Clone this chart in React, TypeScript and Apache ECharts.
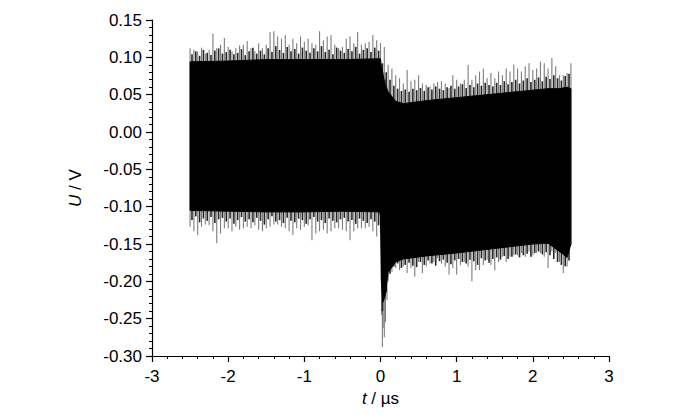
import React, { useEffect, useRef } from "react";
import * as echarts from "echarts";

// Sample times (µs) of the visible spike tips, 0.05 µs apart
const sampleT = [
  -2.5, -2.45, -2.4, -2.35, -2.3, -2.25, -2.2, -2.15, -2.1, -2.05,
  -2.0, -1.95, -1.9, -1.85, -1.8, -1.75, -1.7, -1.65, -1.6, -1.55,
  -1.5, -1.45, -1.4, -1.35, -1.3, -1.25, -1.2, -1.15, -1.1, -1.05,
  -1.0, -0.95, -0.9, -0.85, -0.8, -0.75, -0.7, -0.65, -0.6, -0.55,
  -0.5, -0.45, -0.4, -0.35, -0.3, -0.25, -0.2, -0.15, -0.1, -0.05,
  0.0, 0.05, 0.1, 0.15, 0.2, 0.25, 0.3, 0.35, 0.4, 0.45,
  0.5, 0.55, 0.6, 0.65, 0.7, 0.75, 0.8, 0.85, 0.9, 0.95,
  1.0, 1.05, 1.1, 1.15, 1.2, 1.25, 1.3, 1.35, 1.4, 1.45,
  1.5, 1.55, 1.6, 1.65, 1.7, 1.75, 1.8, 1.85, 1.9, 1.95,
  2.0, 2.05, 2.1, 2.15, 2.2, 2.25, 2.3, 2.35, 2.4, 2.45,
  2.5,
];

// Upper spike tips (V)
const spikeHi = [
  0.112, 0.110, 0.108, 0.113, 0.105, 0.110, 0.132, 0.112, 0.117, 0.126,
  0.114, 0.108, 0.112, 0.116, 0.117, 0.122, 0.112, 0.108, 0.119, 0.112,
  0.117, 0.134, 0.135, 0.128, 0.125, 0.130, 0.117, 0.125, 0.119, 0.128,
  0.121, 0.125, 0.119, 0.117, 0.135, 0.123, 0.128, 0.130, 0.117, 0.112,
  0.114, 0.125, 0.128, 0.119, 0.134, 0.117, 0.119, 0.121, 0.130, 0.123,
  0.119, 0.114, 0.090, 0.085, 0.076, 0.072, 0.065, 0.083, 0.068, 0.070,
  0.076, 0.065, 0.063, 0.061, 0.065, 0.067, 0.068, 0.065, 0.059, 0.076,
  0.070, 0.065, 0.070, 0.090, 0.070, 0.076, 0.081, 0.085, 0.072, 0.079,
  0.072, 0.081, 0.076, 0.085, 0.081, 0.090, 0.085, 0.081, 0.088, 0.092,
  0.083, 0.085, 0.094, 0.092, 0.085, 0.099, 0.088, 0.076, 0.076, 0.079,
  0.092,
];

// Lower spike tips (V)
const spikeLo = [
  -0.127, -0.133, -0.138, -0.127, -0.124, -0.125, -0.133, -0.149, -0.136, -0.129,
  -0.129, -0.133, -0.127, -0.131, -0.129, -0.127, -0.129, -0.125, -0.131, -0.133,
  -0.129, -0.127, -0.124, -0.124, -0.127, -0.129, -0.133, -0.138, -0.129, -0.131,
  -0.127, -0.125, -0.145, -0.136, -0.133, -0.131, -0.136, -0.133, -0.129, -0.129,
  -0.131, -0.133, -0.145, -0.133, -0.129, -0.129, -0.129, -0.127, -0.133, -0.140,
  -0.136, -0.275, -0.200, -0.187, -0.182, -0.185, -0.180, -0.189, -0.182, -0.194,
  -0.174, -0.189, -0.180, -0.176, -0.174, -0.169, -0.176, -0.180, -0.191, -0.182,
  -0.191, -0.178, -0.174, -0.180, -0.200, -0.185, -0.185, -0.178, -0.171, -0.178,
  -0.185, -0.174, -0.167, -0.174, -0.167, -0.165, -0.165, -0.162, -0.167, -0.160,
  -0.165, -0.162, -0.162, -0.167, -0.182, -0.160, -0.162, -0.174, -0.189, -0.180,
  -0.151,
];

// Dense dark fringe, sampled half-way between the spike tips
const fringeT = [
  -2.475, -2.425, -2.375, -2.325, -2.275, -2.225, -2.175, -2.125, -2.075, -2.025,
  -1.975, -1.925, -1.875, -1.825, -1.775, -1.725, -1.675, -1.625, -1.575, -1.525,
  -1.475, -1.425, -1.375, -1.325, -1.275, -1.225, -1.175, -1.125, -1.075, -1.025,
  -0.975, -0.925, -0.875, -0.825, -0.775, -0.725, -0.675, -0.625, -0.575, -0.525,
  -0.475, -0.425, -0.375, -0.325, -0.275, -0.225, -0.175, -0.125, -0.075, -0.025,
  0.025, 0.075, 0.125, 0.175, 0.225, 0.275, 0.325, 0.375, 0.425, 0.475,
  0.525, 0.575, 0.625, 0.675, 0.725, 0.775, 0.825, 0.875, 0.925, 0.975,
  1.025, 1.075, 1.125, 1.175, 1.225, 1.275, 1.325, 1.375, 1.425, 1.475,
  1.525, 1.575, 1.625, 1.675, 1.725, 1.775, 1.825, 1.875, 1.925, 1.975,
  2.025, 2.075, 2.125, 2.175, 2.225, 2.275, 2.325, 2.375, 2.425, 2.475,
];
const fringeHi = [
  0.104, 0.108, 0.102, 0.110, 0.106, 0.103, 0.109, 0.112, 0.105, 0.107,
  0.110, 0.104, 0.106, 0.111, 0.103, 0.108, 0.113, 0.105, 0.109, 0.104,
  0.112, 0.107, 0.115, 0.110, 0.106, 0.114, 0.108, 0.111, 0.105, 0.113,
  0.109, 0.106, 0.112, 0.108, 0.115, 0.107, 0.110, 0.104, 0.113, 0.109,
  0.106, 0.111, 0.108, 0.114, 0.105, 0.110, 0.112, 0.107, 0.113, 0.109,
  0.092, 0.080, 0.070, 0.062, 0.058, 0.055, 0.057, 0.054, 0.058, 0.056,
  0.059, 0.055, 0.060, 0.057, 0.061, 0.058, 0.056, 0.060, 0.062, 0.058,
  0.061, 0.064, 0.059, 0.063, 0.060, 0.065, 0.062, 0.066, 0.063, 0.061,
  0.066, 0.063, 0.068, 0.064, 0.067, 0.070, 0.065, 0.069, 0.072, 0.067,
  0.070, 0.073, 0.068, 0.074, 0.071, 0.076, 0.072, 0.069, 0.075, 0.078,
];
const fringeLo = [
  -0.118, -0.113, -0.121, -0.116, -0.119, -0.114, -0.122, -0.117, -0.115, -0.120,
  -0.116, -0.123, -0.118, -0.114, -0.120, -0.117, -0.121, -0.115, -0.119, -0.124,
  -0.117, -0.113, -0.120, -0.118, -0.122, -0.115, -0.119, -0.121, -0.116, -0.118,
  -0.123, -0.117, -0.114, -0.120, -0.118, -0.122, -0.116, -0.119, -0.121, -0.117,
  -0.115, -0.120, -0.118, -0.123, -0.116, -0.119, -0.122, -0.117, -0.120, -0.125,
  -0.240, -0.215, -0.190, -0.180, -0.176, -0.182, -0.178, -0.175, -0.179, -0.181,
  -0.174, -0.178, -0.172, -0.176, -0.179, -0.173, -0.171, -0.175, -0.177, -0.172,
  -0.170, -0.174, -0.176, -0.171, -0.173, -0.178, -0.169, -0.172, -0.175, -0.170,
  -0.168, -0.171, -0.166, -0.170, -0.167, -0.164, -0.168, -0.165, -0.163, -0.167,
  -0.162, -0.160, -0.164, -0.161, -0.165, -0.170, -0.174, -0.178, -0.180, -0.172,
];

// Transient just after the step at t = 0
const transientT = [0.015, 0.025, 0.035, 0.065, 0.085];
const transientHi = [0.09, 0.085, 0.08, 0.07, 0.06];
const transientLo = [-0.245, -0.288, -0.262, -0.255, -0.225];

// Dense (solid black) envelope of the signal
const coreT = [-2.5, -2.0, -1.5, -1.0, -0.5, -0.01, 0.0, 0.01, 0.03, 0.06, 0.1, 0.2, 0.3, 0.6, 1.0, 1.5, 2.0, 2.2, 2.35, 2.45, 2.5];
const coreHi = [0.094, 0.095, 0.097, 0.097, 0.097, 0.098, 0.098, 0.088, 0.078, 0.064, 0.054, 0.041, 0.038, 0.042, 0.046, 0.051, 0.056, 0.058, 0.058, 0.06, 0.058];
const coreLo = [-0.105, -0.106, -0.107, -0.107, -0.106, -0.107, -0.113, -0.198, -0.228, -0.22, -0.188, -0.174, -0.17, -0.166, -0.162, -0.156, -0.15, -0.149, -0.16, -0.168, -0.15];

const xMin = -3, xMax = 3, xStep = 1;
const yMin = -0.3, yMax = 0.15, yStep = 0.05;

const FONT = "'Liberation Sans', Arial, Helvetica, sans-serif";

function spikeSeries(name: string, data: number[][], color: string, width: number, z: number) {
  return {
    type: "custom",
    name,
    data,
    encode: { x: 0, y: [1, 2] },
    z,
    renderItem: (_params: any, api: any) => {
      const t = api.value(0);
      const a = api.coord([t, api.value(2)]);
      const b = api.coord([t, api.value(1)]);
      return {
        type: "line",
        shape: { x1: a[0], y1: a[1], x2: b[0], y2: b[1] },
        style: { stroke: color, lineWidth: width },
      };
    },
  };
}

export default function App() {
  const ref = useRef<HTMLDivElement>(null);
  useEffect(() => {
    document.body.style.margin = "0";
    const chart = echarts.init(ref.current!, null, { renderer: "svg" });
    const spikeData = sampleT
      .map((t, i) => [t, spikeLo[i], spikeHi[i]])
      .concat(transientT.map((t, i) => [t, transientLo[i], transientHi[i]]));
    const fringeData = fringeT.map((t, i) => [t, fringeLo[i], fringeHi[i]]);
    const coreData = coreT.map((t, i) => [t, coreLo[i], coreHi[i]]);

    const axisCommon = {
      axisLine: { show: true, onZero: false, lineStyle: { color: "#000", width: 1.2 } },
      axisTick: { show: true, inside: false, length: 6, lineStyle: { color: "#000", width: 1.2 } },
      minorTick: { show: true, splitNumber: 5, length: 3, lineStyle: { color: "#000", width: 1 } },
      splitLine: { show: false },
      minorSplitLine: { show: false },
    };

    chart.setOption({
      animation: false,
      backgroundColor: "#fff",
      grid: { left: 152, right: 91, top: 20, bottom: 59 },
      xAxis: {
        type: "value",
        min: xMin,
        max: xMax,
        interval: xStep,
        ...axisCommon,
        axisLabel: { color: "#000", fontSize: 17, fontFamily: FONT, margin: 12 },
        name: "{i|t} / µs",
        nameLocation: "middle",
        nameGap: 33,
        nameTextStyle: {
          color: "#000",
          fontSize: 17,
          fontFamily: FONT,
          rich: { i: { fontStyle: "italic", fontSize: 17, fontFamily: FONT, color: "#000" } },
        },
      },
      yAxis: {
        type: "value",
        min: yMin,
        max: yMax,
        interval: yStep,
        ...axisCommon,
        axisLabel: {
          color: "#000",
          fontSize: 17,
          fontFamily: FONT,
          margin: 10,
          formatter: (v: number) => v.toFixed(2),
        },
        name: "{i|U} / V",
        nameLocation: "middle",
        nameGap: 68,
        nameTextStyle: {
          color: "#000",
          fontSize: 17,
          fontFamily: FONT,
          rich: { i: { fontStyle: "italic", fontSize: 17, fontFamily: FONT, color: "#000" } },
        },
      },
      series: [
        spikeSeries("spikes", spikeData, "#7c7c7c", 1.1, 1),
        spikeSeries("fringe", fringeData, "#262626", 1.6, 2),
        {
          type: "custom",
          name: "core",
          data: coreData,
          encode: { x: 0, y: [1, 2] },
          z: 3,
          renderItem: (params: any, api: any) => {
            if (params.dataIndex !== 0) return null;
            const pts: number[][] = [];
            for (let i = 0; i < coreT.length; i++) pts.push(api.coord([coreT[i], coreHi[i]]));
            for (let i = coreT.length - 1; i >= 0; i--) pts.push(api.coord([coreT[i], coreLo[i]]));
            return {
              type: "polygon",
              shape: { points: pts },
              style: { fill: "#000", stroke: "#000", lineWidth: 1 },
            };
          },
        },
      ],
    });
    return () => chart.dispose();
  }, []);
  return <div ref={ref} style={{ width: 700, height: 415 }} />;
}
